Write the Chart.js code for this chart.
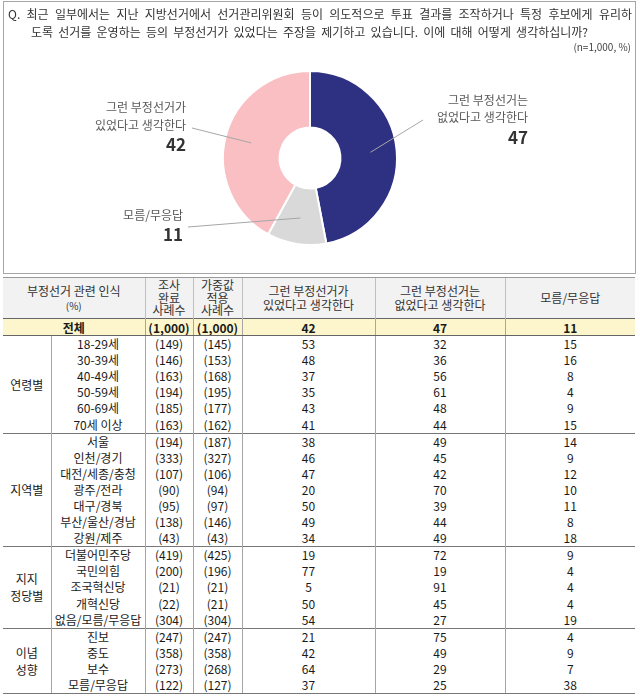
<!DOCTYPE html>
<html>
<head>
<meta charset="utf-8">
<script src="https://cdn.jsdelivr.net/npm/chart.js@4.4.0/dist/chart.umd.min.js"></script>
<style>
body{margin:0;width:640px;height:697px;background:#fff;font-family:"Noto Sans CJK KR","Noto Sans",sans-serif;position:relative;overflow:hidden;color:#222}
#box{position:absolute;left:3px;top:1px;width:631px;height:271px;border:1px solid #a6a6a6}
#chartWrap{position:absolute;left:0;top:0;width:640px;height:275px}
#q{position:absolute;left:8px;top:5px;width:624px;font-size:12px;line-height:18px;color:#333}
#q .l1{text-align:justify;text-align-last:justify}
#q .l2{padding-left:23px;word-spacing:2.5px}
#n{position:absolute;right:9px;top:39px;font-size:10px;color:#444}
table{position:absolute;left:3px;top:277px;width:632px;border-collapse:collapse;table-layout:fixed;font-size:12px;color:#1a1a1a}
td,th{padding:0;text-align:center;white-space:pre-line;font-weight:normal;overflow:hidden}
thead th{background:#f2f2f2;height:40px;line-height:14px;border-top:1px solid #999;border-left:1px solid #bfbfbf;color:#333}
thead th.three{line-height:12.5px}
thead th:first-child{border-left:none}
thead th small{font-size:10px}
tr.total td{background:#fdf6cc;font-weight:bold;height:16px;line-height:15px;border-top:1px solid #666;border-bottom:1px solid #666;border-left:1px solid #a6a6a6}
tr.total td:first-child{border-left:none}
tbody td{height:16.1px;line-height:16px;border-left:1px solid #a6a6a6}
tbody td.grp{border-left:none;line-height:17px}
tr.first td{border-top:1px solid #777}
tbody tr:last-child td, td.grp.last{border-bottom:1px solid #777}
</style>
</head>
<body>
<div id="box"></div>
<div id="chartWrap"><canvas id="pieChart"></canvas></div>
<div id="q"><div class="l1">Q. 최근 일부에서는 지난 지방선거에서 선거관리위원회 등이 의도적으로 투표 결과를 조작하거나 특정 후보에게 유리하</div><div class="l2">도록 선거를 운영하는 등의 부정선거가 있었다는 주장을 제기하고 있습니다. 이에 대해 어떻게 생각하십니까?</div></div>
<div id="n">(n=1,000, %)</div>
<table id="tbl"></table>
<script>
// answers, in table column order
const answerLabels = ['그런 부정선거가\n있었다고 생각한다', '그런 부정선거는\n없었다고 생각한다', '모름/무응답'];
const totalRow = { sample: 1000, weighted: 1000, values: [42, 47, 11] };

// doughnut goes clockwise from 12 o'clock: 없었다 -> 모름 -> 있었다
const pieOrder = [1, 2, 0];
const sliceColors = ['#2e3182', '#d9d9d9', '#f9bfc3'];

const groupNames = ['연령별', '지역별', '지지\n정당별', '이념\n성향'];
const groupSizes = [6, 7, 5, 4];

const rowLabels = ['18-29세', '30-39세', '40-49세', '50-59세', '60-69세', '70세 이상',
    '서울', '인천/경기', '대전/세종/충청', '광주/전라', '대구/경북', '부산/울산/경남', '강원/제주',
    '더불어민주당', '국민의힘', '조국혁신당', '개혁신당', '없음/모름/무응답',
    '진보', '중도', '보수', '모름/무응답'];
const sampleN = [149, 146, 163, 194, 185, 163, 194, 333, 107, 90, 95, 138, 43, 419, 200, 21, 22, 304, 247, 358, 273, 122];
const weightedN = [145, 153, 168, 195, 177, 162, 187, 327, 106, 94, 97, 146, 43, 425, 196, 21, 21, 304, 247, 358, 268, 127];
const yesPct = [53, 48, 37, 35, 43, 41, 38, 46, 47, 20, 50, 49, 34, 19, 77, 5, 50, 54, 21, 42, 64, 37];
const noPct = [32, 36, 56, 61, 48, 44, 49, 45, 42, 70, 39, 44, 49, 72, 19, 91, 45, 27, 75, 49, 29, 25];
const dkPct = [15, 16, 8, 4, 9, 15, 14, 9, 12, 10, 11, 8, 18, 9, 4, 4, 4, 19, 4, 9, 7, 38];

// callout placement relative to the doughnut centre, one entry per slice
const calloutLayout = [
    { textX: 218, lineYs: [-58, -41], numY: -20, from: [113, -38] },
    { textX: -127, lineYs: [57], numY: 77, from: [-122, 69] },
    { textX: -124, lineYs: [-51, -33], numY: -13, from: [-118, -30] },
];

const calloutPlugin = {
    id: 'callouts',
    afterDatasetsDraw(chart) {
        const ctx = chart.ctx;
        const arcs = chart.getDatasetMeta(0).data;
        arcs.forEach((arc, i) => {
            const p = arc.getProps(['x', 'y', 'startAngle', 'endAngle', 'innerRadius', 'outerRadius'], true);
            const mid = (p.startAngle + p.endAngle) / 2;
            const r = (p.innerRadius + p.outerRadius) / 2 + 2;
            const lay = calloutLayout[i];
            ctx.save();
            ctx.strokeStyle = '#a6a6a6';
            ctx.lineWidth = 1;
            ctx.beginPath();
            ctx.moveTo(p.x + lay.from[0], p.y + lay.from[1]);
            ctx.lineTo(p.x + Math.cos(mid) * r, p.y + Math.sin(mid) * r);
            ctx.stroke();

            ctx.textAlign = 'right';
            ctx.textBaseline = 'middle';
            ctx.fillStyle = '#595959';
            ctx.font = '12px "Noto Sans CJK KR"';
            const lines = chart.data.labels[i].split('\n');
            lines.forEach((t, k) => ctx.fillText(t, p.x + lay.textX, p.y + lay.lineYs[k]));
            ctx.fillStyle = '#333';
            ctx.font = 'bold 17px "Noto Sans CJK KR"';
            ctx.fillText(String(chart.data.datasets[0].data[i]), p.x + lay.textX, p.y + lay.numY);
            ctx.restore();
        });
    }
};

new Chart(document.getElementById('pieChart'), {
    type: 'doughnut',
    data: {
        labels: pieOrder.map(k => answerLabels[k]),
        datasets: [{
            data: pieOrder.map(k => totalRow.values[k]),
            backgroundColor: sliceColors,
            borderColor: '#fff',
            borderWidth: 2,
        }],
    },
    options: {
        responsive: true,
        maintainAspectRatio: false,
        animation: false,
        cutout: '35%',
        layout: { padding: { left: 222, right: 242, top: 70, bottom: 29 } },
        plugins: { legend: { display: false }, tooltip: { enabled: false } },
    },
    plugins: [calloutPlugin],
});

// table under the chart
const colWidths = [48, 94, 48, 49, 133, 130, 130];
const fmtN = n => '(' + n.toLocaleString('en-US') + ')';
let html = '<colgroup>' + colWidths.map(w => '<col style="width:' + w + 'px">').join('') + '</colgroup>';
html += '<thead><tr><th colspan="2">부정선거 관련 인식\n<small>(%)</small></th><th class="three">조사\n완료\n사례수</th><th class="three">가중값\n적용\n사례수</th>';
html += answerLabels.map(a => '<th>' + a + '</th>').join('') + '</tr></thead><tbody>';
html += '<tr class="total"><td colspan="2">전체</td><td>' + fmtN(totalRow.sample) + '</td><td>' + fmtN(totalRow.weighted) + '</td>' +
    totalRow.values.map(v => '<td>' + v + '</td>').join('') + '</tr>';
let idx = 0;
groupNames.forEach((g, gi) => {
    for (let k = 0; k < groupSizes[gi]; k++) {
        html += '<tr' + (k === 0 && gi > 0 ? ' class="first"' : '') + '>';
        if (k === 0) html += '<td class="grp' + (gi === groupNames.length - 1 ? ' last' : '') + '" rowspan="' + groupSizes[gi] + '">' + g + '</td>';
        html += '<td>' + rowLabels[idx] + '</td><td>' + fmtN(sampleN[idx]) + '</td><td>' + fmtN(weightedN[idx]) + '</td>' +
            '<td>' + yesPct[idx] + '</td><td>' + noPct[idx] + '</td><td>' + dkPct[idx] + '</td></tr>';
        idx++;
    }
});
html += '</tbody>';
document.getElementById('tbl').innerHTML = html;
</script>
</body>
</html>
